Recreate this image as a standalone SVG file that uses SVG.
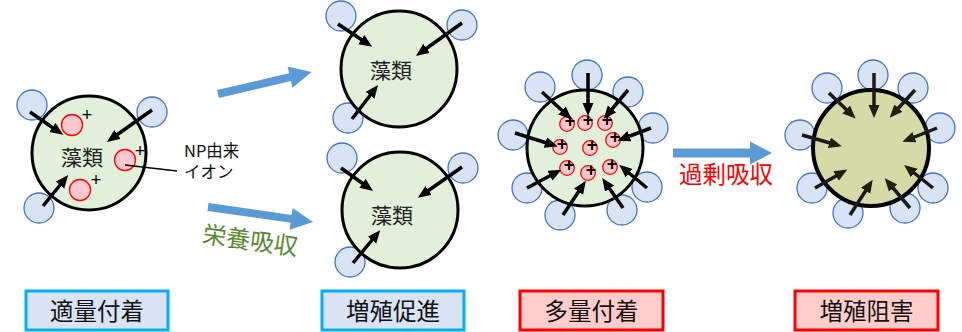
<svg xmlns="http://www.w3.org/2000/svg" width="962" height="332" viewBox="0 0 962 332">
  <style>
    .cell { fill: #e2efda; stroke: #000; stroke-width: 3; }
    .cell-bad { fill: #d6d9a8; stroke: #000; stroke-width: 4; }
    .ion-src { fill: #dae3f3; stroke: #4472c4; stroke-width: 1.3; }
    .ion { fill: #ffc7ce; stroke: #ff0000; stroke-width: 1.3; }
    .push { stroke: #000; stroke-width: 3.5; fill: none; marker-end: url(#head); }
    .push-bad { stroke: #1a1a1a; stroke-width: 3.5; fill: none; marker-end: url(#head-bad); }
    .jp { font-family: "Noto Sans CJK JP", "Noto Sans", sans-serif; }
    .name { font-size: 21px; fill: #222; text-anchor: middle; }
    .plus { font-family: "Liberation Sans", Arial, sans-serif; font-size: 18px; fill: #000; text-anchor: middle; }
    .plus-s { font-family: "Liberation Sans", Arial, sans-serif; font-size: 18px; font-weight: bold; fill: #000; text-anchor: middle; }
    .flow { fill: #5b9bd5; }
    .good { fill: #dae3f3; stroke: #00b0f0; stroke-width: 3; }
    .bad { fill: #ffcccc; stroke: #ff0000; stroke-width: 3; }
    .tag { font-size: 23.5px; fill: #111; text-anchor: middle; }
  </style>
  <defs>
    <marker id="head" markerUnits="userSpaceOnUse" markerWidth="14" markerHeight="12" refX="8" refY="5.5" orient="auto">
      <path d="M0,0 L13,5.5 L0,11 z" fill="#000"/>
    </marker>
    <marker id="head-bad" markerUnits="userSpaceOnUse" markerWidth="14" markerHeight="12" refX="8" refY="5.5" orient="auto">
      <path d="M0,0 L13,5.5 L0,11 z" fill="#1f1f0a"/>
    </marker>
  </defs>

  <!-- moderate adhesion -->
  <g id="cell-moderate">
    <circle class="ion-src" cx="32" cy="105" r="15"/>
    <circle class="ion-src" cx="152" cy="112" r="15"/>
    <circle class="ion-src" cx="39" cy="208" r="15"/>
    <circle class="cell" cx="89" cy="153" r="57"/>
    <circle class="ion" cx="72" cy="125" r="10.5"/>
    <circle class="ion" cx="125" cy="160" r="10.5"/>
    <circle class="ion" cx="80" cy="190" r="10.5"/>
    <text class="plus" x="87" y="120.5">+</text>
    <text class="plus" x="140" y="156.5">+</text>
    <text class="plus" x="96" y="185.5">+</text>
    <path class="push" d="M30,112 L59,132"/>
    <path class="push" d="M152,110 L111,139"/>
    <path class="push" d="M43,206 L65,179"/>
    <text class="jp name" x="82" y="165">藻類</text>
  </g>

  <!-- NP-derived ion callout -->
  <g id="ion-label">
    <line x1="125" y1="165" x2="177" y2="171" stroke="#000" stroke-width="1.3"/>
    <text class="jp" x="184" y="157" font-size="16.5" fill="#111">NP由来</text>
    <text class="jp" x="184" y="178" font-size="16.5" fill="#111">イオン</text>
  </g>

  <!-- growth promotion (upper) -->
  <g id="cell-grow-a">
    <circle class="ion-src" cx="341" cy="16" r="15"/>
    <circle class="ion-src" cx="462" cy="25" r="15"/>
    <circle class="ion-src" cx="348" cy="118" r="15"/>
    <circle class="cell" cx="399" cy="69" r="58"/>
    <path class="push" d="M338,24 L368,44"/>
    <path class="push" d="M462,23 L420,53"/>
    <path class="push" d="M352,119 L375,89"/>
    <text class="jp name" x="391" y="77.5">藻類</text>
  </g>

  <!-- growth promotion (lower) -->
  <g id="cell-grow-b">
    <circle class="ion-src" cx="342" cy="158" r="15"/>
    <circle class="ion-src" cx="463" cy="168" r="15"/>
    <circle class="ion-src" cx="350" cy="262" r="15"/>
    <circle class="cell" cx="400" cy="210" r="58"/>
    <path class="push" d="M341,168 L369,188"/>
    <path class="push" d="M462,167 L422,195"/>
    <path class="push" d="M353,263 L377,234"/>
    <text class="jp name" x="392" y="222.5">藻類</text>
  </g>

  <!-- heavy adhesion -->
  <g id="cell-heavy">
    <circle class="ion-src" cx="587" cy="75" r="15"/>
    <circle class="ion-src" cx="540" cy="87" r="15"/>
    <circle class="ion-src" cx="628" cy="92" r="15"/>
    <circle class="ion-src" cx="653" cy="128" r="15"/>
    <circle class="ion-src" cx="513" cy="135" r="15"/>
    <circle class="ion-src" cx="647" cy="187" r="15"/>
    <circle class="ion-src" cx="527" cy="188" r="15"/>
    <circle class="ion-src" cx="560" cy="215" r="15"/>
    <circle class="ion-src" cx="622" cy="210" r="15"/>
    <circle class="cell" cx="585" cy="148" r="58"/>
    <circle class="ion" cx="567" cy="124" r="7.3"/>
    <circle class="ion" cx="585" cy="123" r="7.3"/>
    <circle class="ion" cx="605" cy="123" r="7.3"/>
    <circle class="ion" cx="613" cy="140" r="7.3"/>
    <circle class="ion" cx="560" cy="147" r="7.3"/>
    <circle class="ion" cx="590" cy="148" r="7.3"/>
    <circle class="ion" cx="567" cy="168" r="7.3"/>
    <circle class="ion" cx="588" cy="173" r="7.3"/>
    <circle class="ion" cx="610" cy="167" r="7.3"/>
    <text class="plus-s" x="570" y="127">+</text>
    <text class="plus-s" x="588" y="126">+</text>
    <text class="plus-s" x="607" y="126">+</text>
    <text class="plus-s" x="615" y="143">+</text>
    <text class="plus-s" x="562" y="150">+</text>
    <text class="plus-s" x="592" y="151">+</text>
    <text class="plus-s" x="569" y="171">+</text>
    <text class="plus-s" x="591" y="176">+</text>
    <text class="plus-s" x="612" y="170">+</text>
    <path class="push" d="M588,73 L588,111"/>
    <path class="push" d="M542,92 L568,116"/>
    <path class="push" d="M628,90 L607,115"/>
    <path class="push" d="M651,128 L622,139"/>
    <path class="push" d="M515,133 L553,145"/>
    <path class="push" d="M647,188 L623,168"/>
    <path class="push" d="M527,188 L557,172"/>
    <path class="push" d="M563,215 L583,185"/>
    <path class="push" d="M623,208 L605,182"/>
  </g>

  <!-- growth inhibition -->
  <g id="cell-inhibited">
    <circle class="ion-src" cx="873" cy="75" r="15"/>
    <circle class="ion-src" cx="827" cy="88" r="15"/>
    <circle class="ion-src" cx="913" cy="88" r="15"/>
    <circle class="ion-src" cx="940" cy="128" r="15"/>
    <circle class="ion-src" cx="800" cy="135" r="15"/>
    <circle class="ion-src" cx="933" cy="188" r="15"/>
    <circle class="ion-src" cx="812" cy="188" r="15"/>
    <circle class="ion-src" cx="848" cy="213" r="15"/>
    <circle class="ion-src" cx="905" cy="208" r="15"/>
    <circle class="cell-bad" cx="871" cy="148" r="58"/>
    <path class="push-bad" d="M874,73 L874,113"/>
    <path class="push-bad" d="M829,93 L852,115"/>
    <path class="push-bad" d="M915,90 L893,114"/>
    <path class="push-bad" d="M937,128 L907,140"/>
    <path class="push-bad" d="M802,135 L837,145"/>
    <path class="push-bad" d="M933,188 L908,168"/>
    <path class="push-bad" d="M815,188 L843,172"/>
    <path class="push-bad" d="M850,215 L870,184"/>
    <path class="push-bad" d="M910,208 L888,182"/>
  </g>

  <!-- transition arrows -->
  <g id="connectors">
    <polygon class="flow" transform="translate(218,94) rotate(-13.2)" points="0,-4 74,-4 74,-11 96,0 74,11 74,4 0,4"/>
    <polygon class="flow" transform="translate(208,207) rotate(8.1)" points="0,-4 84,-4 84,-11 106,0 84,11 84,4 0,4"/>
    <polygon class="flow" transform="translate(673,153)" points="0,-4.5 77,-4.5 77,-11.5 99,0 77,11.5 77,4.5 0,4.5"/>
    <text class="jp" transform="translate(249,249) rotate(8)" font-size="24" fill="#5a8a32" text-anchor="middle">栄養吸収</text>
    <text class="jp" x="726" y="183" font-size="23.5" fill="#ff0000" text-anchor="middle">過剰吸収</text>
  </g>

  <!-- stage captions -->
  <g id="tag-moderate">
    <rect class="good" x="26" y="291" width="142" height="39"/>
    <text class="jp tag" x="97" y="319.5">適量付着</text>
  </g>
  <g id="tag-promote">
    <rect class="good" x="322" y="291" width="142" height="39"/>
    <text class="jp tag" x="393" y="319.5">増殖促進</text>
  </g>
  <g id="tag-heavy">
    <rect class="bad" x="520" y="291" width="143" height="39"/>
    <text class="jp tag" x="591.5" y="319.5">多量付着</text>
  </g>
  <g id="tag-inhibit">
    <rect class="bad" x="795" y="291" width="143" height="39"/>
    <text class="jp tag" x="866.5" y="319.5">増殖阻害</text>
  </g>
</svg>
